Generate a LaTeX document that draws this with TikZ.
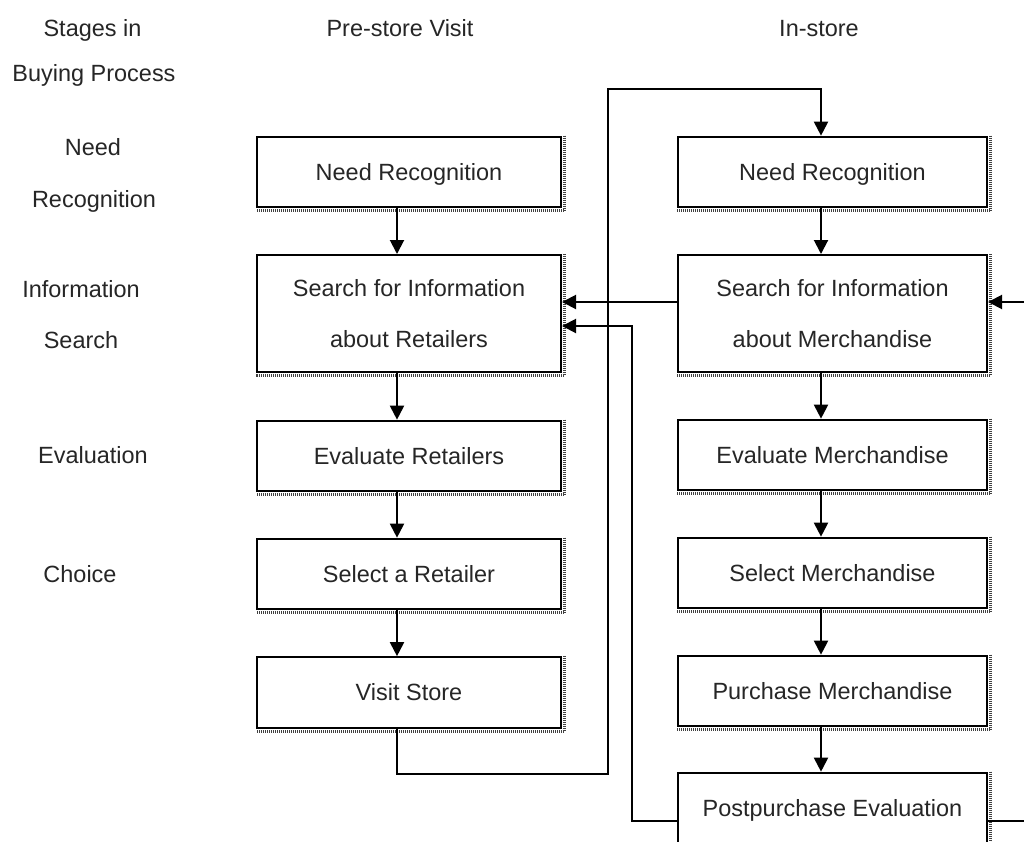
\documentclass[tikz,border=0pt]{standalone}
\usepackage{fontspec}
\setmainfont{Liberation Sans}
\usetikzlibrary{arrows.meta}
\begin{document}
\begin{tikzpicture}[x=0.75pt,y=-0.75pt,
  txt/.style={font=\fontsize{17.6}{38.25}\selectfont, inner sep=0pt, text=black!85},
  stage/.style={txt, anchor=base},
  box/.style={draw, line width=1.5pt, fill=white, txt, align=center,
    text height=12.6pt, text depth=0pt, minimum height=53pt},
  twoline/.style={text height=50.85pt, text depth=0pt, minimum height=87.75pt},
  lbox/.style={box, minimum width=228pt},
  rbox/.style={box, minimum width=231.75pt},
  edge/.style={draw, line width=2.4pt, black!75, dash pattern=on 0.75pt off 0.75pt},
  wire/.style={line width=1.5pt},
  arr/.style={wire, -{Triangle[length=10.5pt,width=10.5pt]}}]

\useasboundingbox (0,0) rectangle (1024,842);
\clip (0,0) rectangle (1024,842);
\fill[white] (0,0) rectangle (1024,842);

% column headings
\node[stage] (hStages) at (92.5,36.3) {Stages in};
\node[stage] (hBuying) at (94,82) {Buying Process};
\node[stage] (hPre) at (400,36.3) {Pre-store Visit};
\node[stage] (hIn) at (819,36.3) {In-store};

% stage names
\node[stage] (sNeed) at (93,155.3) {Need};
\node[stage] (sRec) at (94,207) {Recognition};
\node[stage] (sInfo) at (81,297) {Information};
\node[stage] (sSearch) at (81,348) {Search};
\node[stage] (sEval) at (93,463) {Evaluation};
\node[stage] (sChoice) at (80,582) {Choice};

% routing coordinates
\coordinate (colL) at (397,0);
\coordinate (colR) at (821,0);
\coordinate (yA) at (0,302);
\coordinate (yB) at (0,326);
\coordinate (vsA) at (608,774);
\coordinate (vsB) at (608,89);
\coordinate (peL) at (632,821);
\coordinate (peR) at (1034,821);

% pre-store column
\node[lbox] (L1) at (409,172) {Need Recognition};
\node[lbox,twoline] (L2) at (409,313.5) {Search for Information\\about Retailers};
\node[lbox] (L3) at (409,456) {Evaluate Retailers};
\node[lbox] (L4) at (409,574) {Select a Retailer};
\node[lbox] (L5) at (409,692.5) {Visit Store};

% in-store column
\node[rbox] (R1) at (832.5,172) {Need Recognition};
\node[rbox,twoline] (R2) at (832.5,313.5) {Search for Information\\about Merchandise};
\node[rbox] (R3) at (832.5,455) {Evaluate Merchandise};
\node[rbox] (R4) at (832.5,573) {Select Merchandise};
\node[rbox] (R5) at (832.5,691) {Purchase Merchandise};
\node[rbox] (R6) at (832.5,808) {Postpurchase Evaluation};

% hatched right and bottom edges
\foreach \n in {L1,L2,L3,L4,L5,R1,R2,R3,R4,R5,R6}
  \draw[edge] ([xshift=1.9pt]\n.north east) -- ([xshift=1.9pt,yshift=-1.9pt]\n.south east)
    -- ([yshift=-1.9pt]\n.south west);

% flow within columns
\draw[arr] (L1.south -| colL) -- (L2.north -| colL);
\draw[arr] (L2.south -| colL) -- (L3.north -| colL);
\draw[arr] (L3.south -| colL) -- (L4.north -| colL);
\draw[arr] (L4.south -| colL) -- (L5.north -| colL);
\draw[arr] (R1.south -| colR) -- (R2.north -| colR);
\draw[arr] (R2.south -| colR) -- (R3.north -| colR);
\draw[arr] (R3.south -| colR) -- (R4.north -| colR);
\draw[arr] (R4.south -| colR) -- (R5.north -| colR);
\draw[arr] (R5.south -| colR) -- (R6.north -| colR);

% store visit leads into the in-store process
\draw[arr] (L5.south -| colL) |- (vsA) -- (vsB) -| (R1.north -| colR);

% feedback loops
\draw[arr] (R2.west |- yA) -- (L2.east |- yA);
\draw[arr] (R6.west |- peL) -- (peL) |- (L2.east |- yB);
\draw[arr] (R6.east |- peR) -- (peR) |- (R2.east |- yA);
\end{tikzpicture}
\end{document}
